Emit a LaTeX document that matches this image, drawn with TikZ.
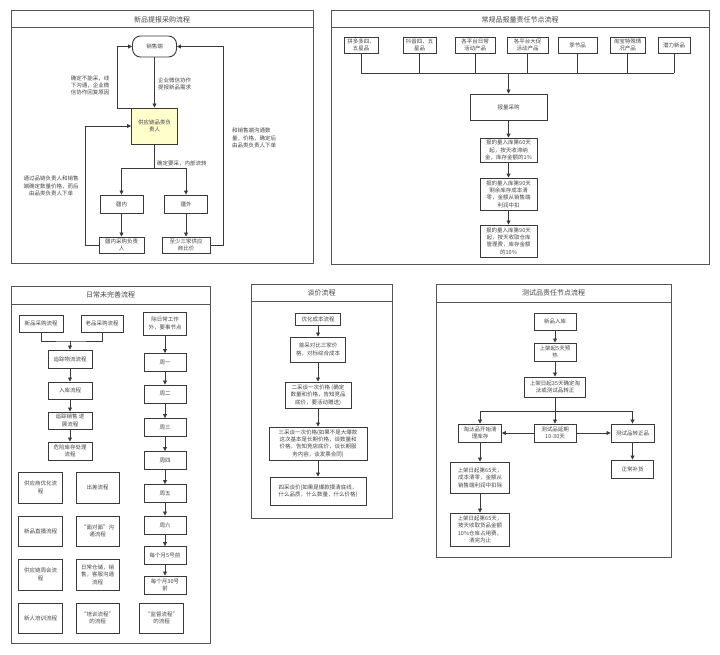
\documentclass[tikz,border=0pt]{standalone}
\usepackage{fontspec}
\setmainfont{Noto Sans CJK SC}
\usepackage{xcolor}
\usetikzlibrary{arrows.meta}
\definecolor{linegray}{HTML}{3A3A3A}
\definecolor{panelgray}{HTML}{555555}
\definecolor{textgray}{HTML}{444444}
\definecolor{notefill}{HTML}{FFFFCC}

\begin{document}
\begin{tikzpicture}[
  x=1pt, y=-1pt,
  font=\fontsize{5.5}{7.4}\selectfont,
  every node/.style={text=textgray},
  panel/.style={draw=panelgray,line width=1pt},
  title/.style={font=\fontsize{7}{8}\selectfont},
  block/.style={draw=linegray,line width=0.9pt,align=center,inner sep=1pt},
  note/.style={align=center,inner sep=0pt},
  line/.style={draw=linegray,line width=0.8pt},
  arrow/.style={line,-{Triangle[length=4pt,width=4pt]}}
]
\useasboundingbox (0,0) rectangle (720,655);

% 新品提报采购流程
\draw[panel] (11,11) rectangle (313,263);
\draw[panel] (11,28) -- (313,28);
\node[title] (t1) at (162,19.5) {新品提报采购流程};

\node[block,rounded corners=8pt,minimum width=44pt,minimum height=21pt] (sales) at (154.5,46.5) {销售端};
\node[block,fill=notefill,minimum width=46pt,minimum height=36pt] (lead) at (154.5,126) {供应链品类负\\责人};
\node[block,minimum width=43pt,minimum height=18pt] (inner) at (121.5,204) {疆内};
\node[block,minimum width=43pt,minimum height=18pt] (outer) at (186,204) {疆外};
\node[block,minimum width=45pt,minimum height=16pt] (innerbuy) at (121.5,245) {疆内采购负责\\人};
\node[block,minimum width=48pt,minimum height=16pt] (compare) at (186,245) {至少三家供应\\商比价};

\node[note,anchor=west,align=left] (asknote) at (158,84) {企业微信协作\\提报新品需求};
\node[note] (rejectnote) at (90,85.5) {确定不能采，线\\下沟通，企业微\\信协作回复原因};
\node[note,anchor=west,align=left] (flownote) at (157,163) {确定要采，内部流转};
\node[note] (innernote) at (51,186) {通过品链负责人和销售\\端确定数量价格，而后\\由品类负责人下单};
\node[note,anchor=west,align=left] (outernote) at (232,138) {和销售端沟通数\\量，价格，确定后\\由品类负责人下单};

\draw[arrow] (sales) -- (lead);
\draw[arrow] ([yshift=-1pt]lead.north west) -- ++(-14,0) |- (sales.west);
\draw[line] (lead.south) -- ++(0,24) coordinate (split);
\draw[arrow] (split) -| (inner.north);
\draw[arrow] (split) -| (outer.north);
\draw[arrow] (inner) -- (innerbuy);
\draw[arrow] (outer) -- (compare);
\draw[arrow] (innerbuy.west) -- ++(-13,0) |- (lead.west);
\draw[arrow] (compare.east) -- ++(13,0) |- (sales.east);

% 常规品报量责任节点流程
\draw[panel] (331,11) rectangle (709,264);
\draw[panel] (331,28) -- (709,28);
\node[title] (t2) at (520,19.5) {常规品报量责任节点流程};

\node[block,minimum width=34pt,minimum height=16pt] (pdd) at (361,45) {拼多多四，\\五星品};
\node[block,minimum width=33pt,minimum height=16pt] (douyin) at (419.5,45) {抖音四，五\\星品};
\node[block,minimum width=40pt,minimum height=16pt] (daily) at (475,45) {各平台日常\\活动产品};
\node[block,minimum width=41pt,minimum height=16pt] (promo) at (527.5,45) {各平台大促\\活动产品};
\node[block,minimum width=39pt,minimum height=16pt] (season) at (577.5,45) {季节品};
\node[block,minimum width=35pt,minimum height=16pt] (taobao) at (627.5,45) {淘宝特殊情\\况产品};
\node[block,minimum width=32pt,minimum height=16pt] (potential) at (674,45) {潜力新品};

\node[block,minimum width=77pt,minimum height=26pt] (order) at (508.5,107) {报量采购};
\node[block,minimum width=57pt,minimum height=24pt] (fee60) at (508.5,150) {报的量入库第60天\\起，按天收滞纳\\金，库存金额的1\%};
\node[block,minimum width=57pt,minimum height=32pt] (clear90) at (508.5,194) {报的量入库第90天\\剩余库存成本清\\零，金额从销售端\\利润中扣};
\node[block,minimum width=57pt,minimum height=32pt] (storage90) at (508.5,241) {报的量入库第90天\\起，按天收取仓库\\管理费，库存金额\\的10\%};

\foreach \n in {pdd,douyin,daily,promo,season,taobao,potential}
  \draw[line] (\n.south) -- ++(0,20);
\draw[line] ([yshift=-20pt]pdd.south) coordinate (busl) -- ([yshift=-20pt]potential.south);
\draw[arrow] (order.north |- busl) -- (order.north);
\draw[arrow] (order) -- (fee60);
\draw[arrow] (fee60) -- (clear90);
\draw[arrow] (clear90) -- (storage90);

% 日常未完善流程
\draw[panel] (11,286) rectangle (210,643);
\draw[panel] (11,304) -- (210,304);
\node[title] (t3) at (110.5,295) {日常未完善流程};

\node[block,minimum width=44pt,minimum height=17pt] (newbuy) at (41,323.5) {新品采购流程};
\node[block,minimum width=42pt,minimum height=17pt] (oldbuy) at (102,323.5) {老品采购流程};
\node[block,minimum width=44pt,minimum height=18pt] (track) at (70,359) {追踪物流流程};
\node[block,minimum width=44pt,minimum height=17pt] (stockin) at (70,390.5) {入库流程};
\node[block,minimum width=44pt,minimum height=17pt] (salesprog) at (70,420.5) {追踪销售 进\\展流程};
\node[block,minimum width=44pt,minimum height=18pt] (risk) at (70,451) {危险库存处理\\流程};

\coordinate (merge) at (70,341);
\draw[line] (newbuy.south) |- (merge) -| (oldbuy.south);
\draw[arrow] (merge) -- (track);
\draw[arrow] (track) -- (stockin);
\draw[arrow] (stockin) -- (salesprog);
\draw[arrow] (salesprog) -- (risk);

\node[block,minimum width=43pt,minimum height=23pt] (keynode) at (165,323.5) {除日常工作\\外，要事节点};
\node[block,minimum width=42pt,minimum height=18pt] (mon) at (165,362.5) {周一};
\node[block,minimum width=42pt,minimum height=18pt] (tue) at (165,394) {周二};
\node[block,minimum width=42pt,minimum height=18pt] (wed) at (165,427.5) {周三};
\node[block,minimum width=42pt,minimum height=18pt] (thu) at (165,460.5) {周四};
\node[block,minimum width=42pt,minimum height=18pt] (fri) at (165,493.5) {周五};
\node[block,minimum width=42pt,minimum height=18pt] (sat) at (165,525) {周六};
\node[block,minimum width=42pt,minimum height=18pt] (month5) at (165,555.5) {每个月5号前};
\node[block,minimum width=42pt,minimum height=18pt] (month30) at (165,585) {每个月30号\\前};
\foreach \a/\b in {keynode/mon,mon/tue,tue/wed,wed/thu,thu/fri,fri/sat,sat/month5,month5/month30}
  \draw[arrow] (\a) -- (\b);

\node[block,minimum width=44pt,minimum height=31pt] (supopt) at (40.5,487.5) {供应商优化流\\程};
\node[block,minimum width=43pt,minimum height=31pt] (trip) at (97.5,487.5) {出差流程};
\node[block,minimum width=44pt,minimum height=30pt] (live) at (40.5,531) {新品直播流程};
\node[block,minimum width=43pt,minimum height=30pt] (face) at (97.5,531) {“面对面”沟\\通流程};
\node[block,minimum width=44pt,minimum height=31pt] (weekly) at (40.5,574.5) {供应链周会流\\程};
\node[block,minimum width=43pt,minimum height=31pt] (dailycomm) at (97.5,574.5) {日常仓储，销\\售，客服沟通\\流程};
\node[block,minimum width=44pt,minimum height=30pt] (newbie) at (40.5,618) {新人培训流程};
\node[block,minimum width=43pt,minimum height=30pt] (train) at (97.5,618) {“培训流程”\\的流程};
\node[block,minimum width=44pt,minimum height=30pt] (supervise) at (161.5,618) {“监督流程”\\的流程};

% 谈价流程
\draw[panel] (251,284) rectangle (392,518);
\draw[panel] (251,301) -- (392,301);
\node[title] (t4) at (321.5,292.5) {谈价流程};

\node[block,minimum width=45pt,minimum height=12pt] (optcost) at (318,319) {优化成本流程};
\node[block,minimum width=55pt,minimum height=25pt] (first) at (318,349.5) {首采对比三家价\\格，对标综合成本};
\node[block,minimum width=66pt,minimum height=26pt] (second) at (318,395) {二采谈一次价格 (确定\\数量和价格，告知竞品\\底价，要活动赠送)};
\node[block,minimum width=98pt,minimum height=33pt] (third) at (318,443.5) {三采谈一次价格(如果不是大爆款\\这次基本是长期价格，谈数量和\\价格，告知竞店底价，谈长期服\\务内容，谈发票合同)};
\node[block,minimum width=96pt,minimum height=28pt] (fourth) at (318,491) {四采谈价(如果是爆款摸清底线，\\什么品质，什么数量，什么价格)};
\draw[arrow] (optcost) -- (first);
\draw[arrow] (first) -- (second);
\draw[arrow] (second) -- (third);
\draw[arrow] (third) -- (fourth);

% 测试品责任节点流程
\draw[panel] (436,284) rectangle (671,557);
\draw[panel] (436,302) -- (671,302);
\node[title] (t5) at (553.5,293) {测试品责任节点流程};

\node[block,minimum width=42pt,minimum height=17pt] (newin) at (555,321.5) {新品入库};
\node[block,minimum width=42pt,minimum height=18pt] (warm) at (555,352) {上架起5天预\\热};
\node[block,minimum width=61pt,minimum height=20pt] (decide) at (555,387) {上架日起35天确定淘\\汰或测试品转正};
\node[block,minimum width=43pt,minimum height=18pt] (elim) at (480,433) {淘汰品开始清\\理库存};
\node[block,minimum width=42pt,minimum height=18pt] (delay) at (555,433) {测试品延期\\10-30天};
\node[block,minimum width=43pt,minimum height=18pt] (regular) at (632.5,433) {测试品转正品};
\node[block,minimum width=42pt,minimum height=18pt] (restock) at (632.5,469) {正常补货};
\node[block,minimum width=59pt,minimum height=31pt] (cost65) at (480,477.5) {上架日起第65天，\\成本清零，金额从\\销售端利润中扣除};
\node[block,minimum width=59pt,minimum height=33pt] (fee65) at (480,529.5) {上架日起第65天，\\按天收取货品金额\\10\%仓库占用费，\\清完为止};

\draw[arrow] (newin) -- (warm);
\draw[arrow] (warm) -- (decide);
\coordinate (tbus) at (555,411);
\draw[line] (decide.south) -- (tbus);
\draw[arrow] (tbus) -| (elim.north);
\draw[arrow] (tbus) -| (regular.north);
\draw[arrow] (tbus) -- (delay.north);
\draw[arrow] (delay) -- (elim);
\draw[arrow] (delay) -- (regular);
\draw[arrow] (regular) -- (restock);
\draw[arrow] (elim) -- (cost65);
\draw[arrow] (cost65) -- (fee65);
\end{tikzpicture}
\end{document}
